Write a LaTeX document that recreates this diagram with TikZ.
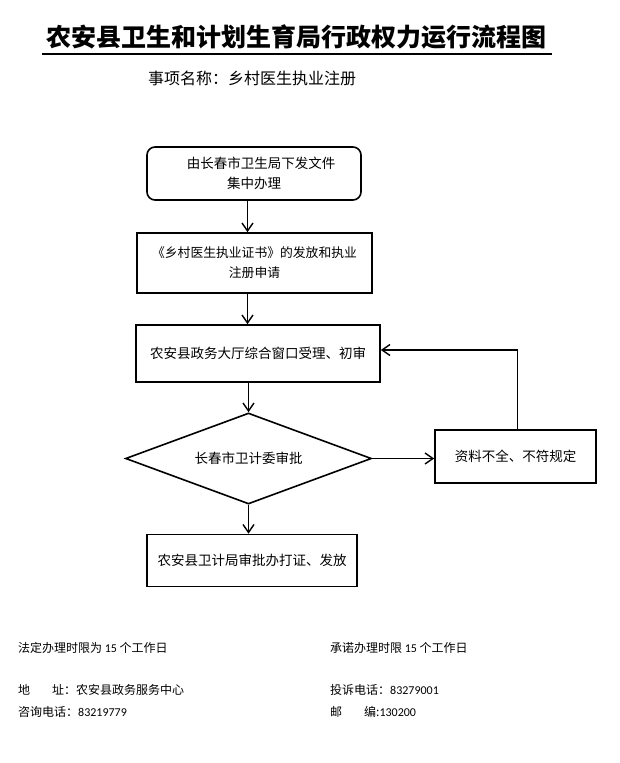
\documentclass[tikz,border=0pt]{standalone}
\usepackage{fontspec}
\setmainfont{Noto Sans CJK SC}
\newfontfamily\lat{Carlito}
\usetikzlibrary{arrows.meta,shapes.geometric}
\tikzset{
  box/.style={draw,line width=1.6pt,inner sep=0pt,font=\fontsize{13.5}{20}\selectfont,align=center},
  arr/.style={line width=1.6pt,-{Straight Barb[length=8pt,width=11pt,line width=1.4pt]}},
  foot/.style={anchor=west,inner sep=0pt,font=\fontsize{12}{14}\selectfont}
}
\begin{document}
\begin{tikzpicture}[x=1pt,y=-1pt]
\useasboundingbox (0,0) rectangle (619,763);
% title
\node[inner sep=0pt,font=\fontsize{25}{30}\selectfont\bfseries] (title) at (296,37) {农安县卫生和计划生育局行政权力运行流程图};
\draw[line width=1.2pt] (42,54) -- (552,54);
\node[inner sep=0pt,font=\fontsize{16}{20}\selectfont] (sub) at (252,78) {事项名称：乡村医生执业注册};
% boxes
\node[box,rounded corners=8pt,minimum width=214pt,minimum height=53pt] (b1) at (254,173.5) {\hspace*{14pt}由长春市卫生局下发文件\\集中办理};
\node[box,minimum width=235pt,minimum height=60pt,font=\fontsize{12.8}{20}\selectfont] (b2) at (254.5,263) {《乡村医生执业证书》的发放和执业\\注册申请};
\node[box,minimum width=244pt,minimum height=57pt] (b3) at (258,353.5) {农安县政务大厅综合窗口受理、初审};
\node[box,diamond,aspect=2.7,minimum width=246pt,minimum height=91pt] (d) at (248.5,458.5) {长春市卫计委审批};
\node[box,minimum width=161pt,minimum height=53pt] (b4) at (515.5,456.5) {资料不全、不符规定};
\node[box,minimum width=210pt,minimum height=52pt] (b5) at (252,560.5) {农安县卫计局审批办打证、发放};
% connectors
\draw[arr] (b1.south -| 247.5,0) -- (b2.north -| 247.5,0);
\draw[arr] (b2.south -| 247.5,0) -- (b3.north -| 247.5,0);
\draw[arr] (b3.south -| d.north) -- (d.north);
\draw[arr] (d.east) -- (b4.west |- d.east);
\draw[arr] (d.south) -- (b5.north -| d.south);
\draw[arr] ([xshift=2pt]b4.north) |- ([yshift=3.5pt]b3.east);
% footer
\node[foot] (f1) at (18,648) {法定办理时限为 {\lat 15} 个工作日};
\node[foot] (f2) at (330,648) {承诺办理时限 {\lat 15} 个工作日};
\node[foot] (f3) at (18,690) {地\hspace{22pt}址：农安县政务服务中心};
\node[foot] (f4) at (18,712) {咨询电话：{\lat 83219779}};
\node[foot] (f5) at (330,690) {投诉电话：{\lat 83279001}};
\node[foot] (f6) at (330,712) {邮\hspace{22pt}编:{\lat 130200}};
\end{tikzpicture}
\end{document}
